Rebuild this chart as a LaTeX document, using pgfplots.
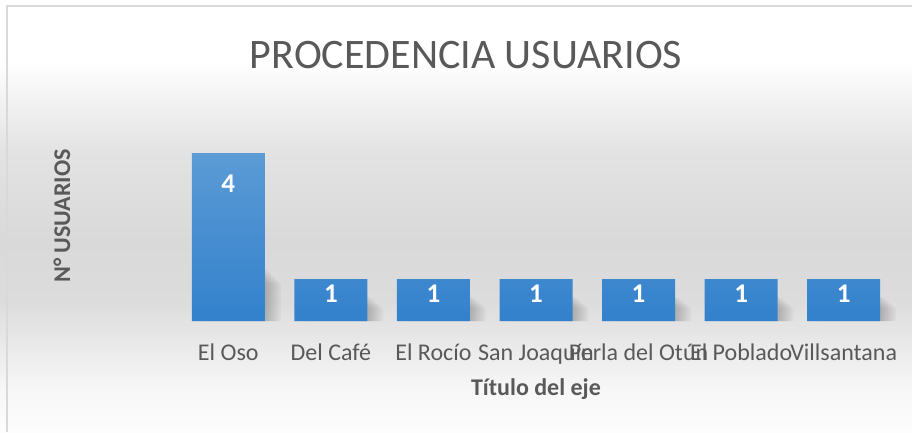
\documentclass[border=0pt]{standalone}
\usepackage{fontspec}
\setmainfont{Carlito}
\usepackage{pgfplots}
\pgfplotsset{compat=1.18}
\definecolor{txt}{HTML}{595959}
\definecolor{bartop}{HTML}{5B9BD5}
\definecolor{barbot}{HTML}{3381CC}
\definecolor{framecol}{HTML}{D9D9D9}

\begin{document}
\begin{tikzpicture}[x=1pt,y=1pt]
\useasboundingbox (0,-432) rectangle (912,0);
% chart area background: white at top, grey band through the middle
\fill[white] (0,-60.5) rectangle (912,0);
\shade[top color=white, bottom color={rgb,255:red,227;green,227;blue,227}] (0,-150.5) rectangle (912,-60);
\shade[top color={rgb,255:red,227;green,227;blue,227}, bottom color={rgb,255:red,217;green,217;blue,217}] (0,-240.5) rectangle (912,-150);
\shade[top color={rgb,255:red,217;green,217;blue,217}, bottom color={rgb,255:red,220;green,220;blue,220}] (0,-300.5) rectangle (912,-240);
\shade[top color={rgb,255:red,220;green,220;blue,220}, bottom color={rgb,255:red,247;green,247;blue,247}] (0,-390.5) rectangle (912,-300);
\shade[top color={rgb,255:red,247;green,247;blue,247}, bottom color={rgb,255:red,253;green,253;blue,253}] (0,-432) rectangle (912,-390);
\draw[framecol, line width=1.5pt] (7,-432) -- (7,-6) -- (912,-6);

\node[text=txt, font=\fontsize{42}{44}\selectfont] at (466,-55) {PROCEDENCIA USUARIOS};
\node[text=txt, rotate=90, font=\bfseries\fontsize{24}{26}\selectfont] at (62,-216) {N° USUARIOS};

\begin{axis}[
  at={(177pt,-321pt)}, anchor=south west,
  scale only axis, width=718pt, height=210pt,
  xmin=-0.5, xmax=6.5, ymin=0, ymax=5,
  axis line style={draw=none},
  ytick=\empty, xtick=data, major tick length=0pt,
  xticklabels={El Oso,Del Café,El Rocío,San Joaquín,Perla del Otún,El Poblado,Villsantana},
  xticklabel style={anchor=base, yshift=-39pt, text=txt, font=\fontsize{24}{26}\selectfont},
  xlabel={Título del eje},
  xlabel style={at={(axis description cs:0.5,0)}, anchor=base, yshift=-74pt,
                text=txt, font=\bfseries\fontsize{24}{26}\selectfont},
  clip=false,
  /pgf/number format/assume math mode=true,
  shadowbar/.style={ybar, bar width=73pt, draw=none, fill=black, fill opacity=0.028, forget plot},
]
% soft shadow to the lower right of each bar, built from faint layers
\addplot[shadowbar, bar shift=2pt]  coordinates {(0,1.25) (1,0.58) (2,0.58) (3,0.58) (4,0.58) (5,0.58) (6,0.58)};
\addplot[shadowbar, bar shift=4pt]  coordinates {(0,1.2) (1,0.55) (2,0.55) (3,0.55) (4,0.55) (5,0.55) (6,0.55)};
\addplot[shadowbar, bar shift=6pt]  coordinates {(0,1.15) (1,0.52) (2,0.52) (3,0.52) (4,0.52) (5,0.52) (6,0.52)};
\addplot[shadowbar, bar shift=8pt]  coordinates {(0,1.1) (1,0.48) (2,0.48) (3,0.48) (4,0.48) (5,0.48) (6,0.48)};
\addplot[shadowbar, bar shift=10pt] coordinates {(0,1.05) (1,0.44) (2,0.44) (3,0.44) (4,0.44) (5,0.44) (6,0.44)};
\addplot[shadowbar, bar shift=12pt] coordinates {(0,1.0) (1,0.40) (2,0.40) (3,0.40) (4,0.40) (5,0.40) (6,0.40)};
\addplot[shadowbar, bar shift=14pt] coordinates {(0,0.95) (1,0.36) (2,0.36) (3,0.36) (4,0.36) (5,0.36) (6,0.36)};
\addplot[shadowbar, bar shift=16pt] coordinates {(0,0.9) (1,0.32) (2,0.32) (3,0.32) (4,0.32) (5,0.32) (6,0.32)};
% the bars
\addplot[ybar, bar width=73pt, bar shift=0pt, draw=none,
         top color=bartop, bottom color=barbot,
         nodes near coords,
         every node near coord/.style={anchor=north, yshift=-2pt, text=white,
                                       font=\bfseries\fontsize{27}{28}\selectfont},
         coordinate style/.condition={\coordindex==0}{yshift=-16pt}]
  coordinates {(0,4) (1,1) (2,1) (3,1) (4,1) (5,1) (6,1)};
\end{axis}
\end{tikzpicture}
\end{document}
